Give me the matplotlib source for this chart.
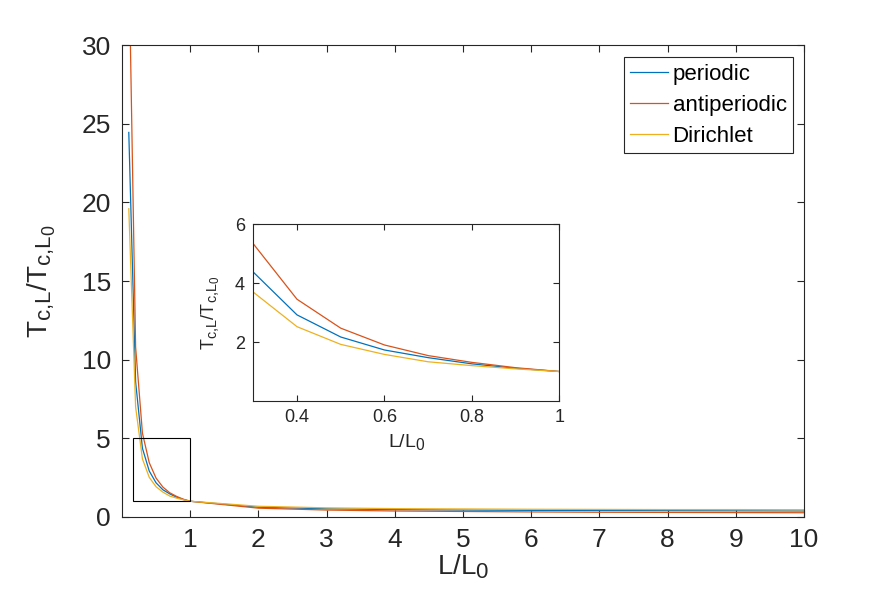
import matplotlib
matplotlib.use("Agg")
import matplotlib.pyplot as plt
import matplotlib._mathtext as _mt
from matplotlib.patches import Rectangle

# MATLAB-style TeX subscripts are larger than mathtext's default
_mt.SHRINK_FACTOR = 0.8

plt.rcParams['font.family'] = ['Liberation Sans', 'DejaVu Sans']
plt.rcParams['mathtext.fontset'] = 'custom'
plt.rcParams['mathtext.rm'] = 'Liberation Sans'

# ---- data ----
L = [0.1, 0.2, 0.3, 0.4, 0.5, 0.6, 0.7, 0.8, 0.9, 1, 2, 3, 4, 5, 6, 7, 8, 9, 10]
periodic = [24.45, 8.6, 4.37, 2.92, 2.17, 1.73, 1.47, 1.26, 1.11, 1.0,
            0.62, 0.52, 0.47, 0.44, 0.42, 0.41, 0.40, 0.39, 0.38]
antiperiodic = [36.0, 10.8, 5.33, 3.45, 2.47, 1.90, 1.54, 1.31, 1.13, 1.0,
                0.56, 0.44, 0.38, 0.35, 0.32, 0.30, 0.29, 0.28, 0.27]
dirichlet = [19.6, 7.0, 3.69, 2.52, 1.92, 1.58, 1.33, 1.20, 1.09, 1.0,
             0.68, 0.58, 0.53, 0.51, 0.49, 0.48, 0.47, 0.47, 0.46]
series_names = ['periodic', 'antiperiodic', 'Dirichlet']
colors = ['#0072BD', '#D95319', '#EDB120']
main_xticks = [1, 2, 3, 4, 5, 6, 7, 8, 9, 10]
main_yticks = [0, 5, 10, 15, 20, 25, 30]
inset_xticks = [0.4, 0.6, 0.8, 1]
inset_xticklabels = ['0.4', '0.6', '0.8', '1']
inset_yticks = [2, 4, 6]
zoom_box = (0.16, 1.0, 1.0, 5.05)  # x0, y0, x1, y1

axcol = '#262626'
ylab = r'$\mathregular{T_{c{,}L}/T_{c{,}L_0}}$'
xlab = r'$\mathregular{L/L_0}$'

fig = plt.figure(figsize=(8.89, 5.98), dpi=100)
ax = fig.add_axes([0.1372, 0.1355, 0.7672, 0.789])

for vals, c, n in zip([periodic, antiperiodic, dirichlet], colors, series_names):
    ax.plot(L, vals, color=c, lw=0.9, label=n)

ax.set_xlim(0, 10)
ax.set_ylim(0, 30)
ax.set_xticks(main_xticks)
ax.set_yticks(main_yticks)
ax.tick_params(direction='in', length=5, width=0.8, top=True, right=True,
               labelsize=19, colors=axcol, pad=8)
for s in ax.spines.values():
    s.set_color(axcol)
    s.set_linewidth(0.8)
ax.set_xlabel(xlab, fontsize=20, color=axcol, labelpad=0)
ax.set_ylabel(ylab, fontsize=20, color=axcol, labelpad=17)

x0, y0, x1, y1 = zoom_box
ax.add_patch(Rectangle((x0, y0), x1 - x0, y1 - y0, fill=False,
                       edgecolor='black', lw=0.8, zorder=5))

leg = ax.legend(loc='upper right', bbox_to_anchor=(0.9843, 0.975), fontsize=16,
                fancybox=False, edgecolor=axcol, framealpha=1,
                handlelength=1.7, handletextpad=0.2, borderpad=0.3,
                labelspacing=0.45, borderaxespad=0)
leg.get_frame().set_linewidth(0.8)

# ---- inset ----
ins = fig.add_axes([0.2849, 0.3294, 0.3442, 0.296])
for vals, c in zip([periodic, antiperiodic, dirichlet], colors):
    ins.plot(L, vals, color=c, lw=0.9)
ins.set_xlim(0.3, 1)
ins.set_ylim(0, 6)
ins.set_xticks(inset_xticks)
ins.set_xticklabels(inset_xticklabels)
ins.set_yticks(inset_yticks)
ins.tick_params(direction='in', length=4, width=0.8, top=True, right=True,
                labelsize=13, colors=axcol, pad=6)
for s in ins.spines.values():
    s.set_color(axcol)
    s.set_linewidth(0.8)
ins.set_xlabel(xlab, fontsize=14, color=axcol, labelpad=4)
ins.set_ylabel(ylab, fontsize=13, color=axcol, labelpad=9)

fig.savefig('out.png', dpi=100)
